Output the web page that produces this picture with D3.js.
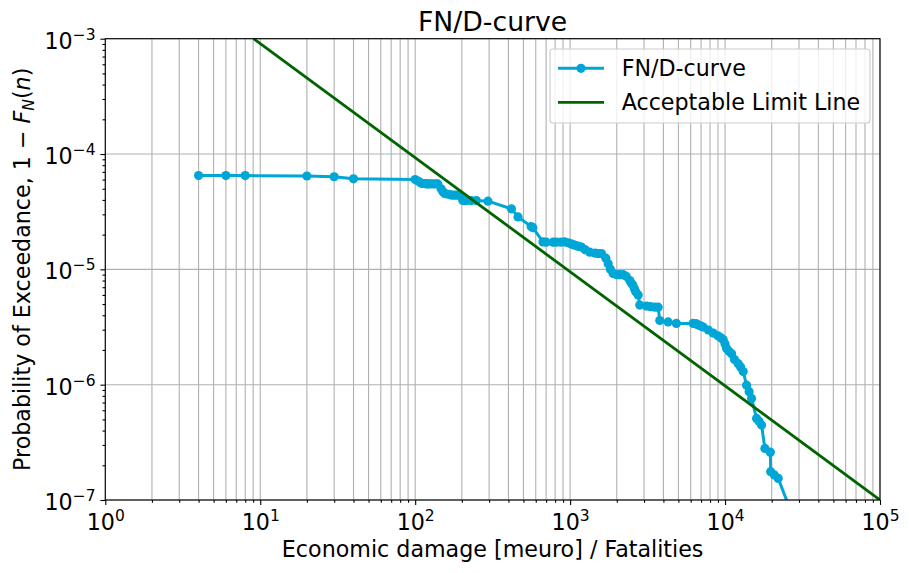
<!DOCTYPE html>
<html>
<head>
<meta charset="utf-8">
<script src="https://cdn.jsdelivr.net/npm/d3@7"></script>
<style>
  body { margin: 0; background: #fff; }
  svg text { font-family: "DejaVu Sans", sans-serif; fill: #000; }
</style>
</head>
<body>
<script>
// damage / fatalities (x) and probability of exceedance (y)
var damage = [4, 6, 8, 20, 30, 40, 100, 105, 109, 112, 115, 118, 121, 125, 130, 135, 140, 147, 151, 155, 160,
  167, 173, 180, 187, 194, 203, 209, 215, 230, 248, 295,
  418, 461, 560, 575, 668, 700, 776, 815, 870, 923, 970, 1019, 1060, 1100, 1140, 1182, 1250, 1339, 1450, 1520,
  1593, 1700, 1760, 1820, 1893, 2000, 2100, 2197, 2300, 2427, 2480, 2540, 2600, 2650, 2750, 2816, 3110, 3300,
  3520, 3700, 3790, 4290, 4850, 6220, 6500, 6700, 7000, 7220, 7800, 8380, 9000, 9400, 9730, 10000, 10230,
  10600, 11020, 11500, 12170, 12600, 13090, 13770, 14300, 14830, 15970, 16600, 17200, 18080, 19600, 19700,
  20800, 22030, 30400];
var exceedance = [6.5e-5, 6.5e-5, 6.5e-5, 6.45e-5, 6.35e-5, 6.1e-5, 6.0e-5, 5.8e-5, 5.6e-5, 5.55e-5, 5.55e-5,
  5.5e-5, 5.5e-5, 5.5e-5, 5.5e-5, 5.5e-5, 5.5e-5, 5.0e-5, 4.7e-5, 4.55e-5, 4.5e-5,
  4.45e-5, 4.4e-5, 4.4e-5, 4.4e-5, 4.4e-5, 3.95e-5, 3.95e-5, 3.95e-5, 3.95e-5, 3.95e-5, 3.9e-5,
  3.35e-5, 2.85e-5, 2.35e-5, 2.3e-5, 1.73e-5, 1.72e-5, 1.72e-5, 1.72e-5, 1.72e-5, 1.73e-5, 1.7e-5, 1.66e-5,
  1.63e-5, 1.6e-5, 1.58e-5, 1.56e-5, 1.48e-5, 1.41e-5, 1.38e-5, 1.37e-5,
  1.37e-5, 1.25e-5, 1.12e-5, 1.0e-5, 9.2e-6, 9.0e-6, 9.0e-6, 9.0e-6, 8.7e-6, 8.0e-6, 7.6e-6, 7.3e-6, 6.8e-6,
  6.4e-6, 6.0e-6, 4.9e-6, 4.8e-6, 4.75e-6,
  4.7e-6, 4.7e-6, 3.6e-6, 3.5e-6, 3.4e-6, 3.4e-6, 3.38e-6, 3.3e-6, 3.22e-6, 3.16e-6, 2.98e-6, 2.8e-6, 2.65e-6,
  2.55e-6, 2.45e-6, 2.25e-6, 2.06e-6,
  1.95e-6, 1.85e-6, 1.65e-6, 1.52e-6, 1.42e-6, 1.3e-6, 9.9e-7, 8.7e-7, 7.6e-7, 5.1e-7, 4.8e-7, 4.46e-7, 2.8e-7,
  2.6e-7, 1.76e-7, 1.65e-7, 1.54e-7, 5e-8];

// acceptable limit line, end points
var limitX = [9.06, 1e5];
var limitY = [1e-3, 1e-7];

var xTickExp = [0, 1, 2, 3, 4, 5];
var yTickExp = [-7, -6, -5, -4, -3];
var legendLabels = ["FN/D-curve", "Acceptable Limit Line"];

var curveColor = "#00a6d6";
var limitColor = "#006400";

var margin = {top: 38.7, right: 29, bottom: 73, left: 105.3};
var width = 909 - margin.left - margin.right;
var height = 573 - margin.top - margin.bottom;

var svg = d3.select("body").append("svg")
  .attr("width", 909)
  .attr("height", 573);

var g = svg.append("g")
  .attr("transform", "translate(" + margin.left + "," + margin.top + ")");

var x = d3.scaleLog().domain([1, 1e5]).range([0, width]);
var y = d3.scaleLog().domain([1e-7, 1e-3]).range([height, 0]);

var xMajor = xTickExp.map(function (e) { return Math.pow(10, e); });
var yMajor = yTickExp.map(function (e) { return Math.pow(10, e); });
function minors(lo, hi) {
  var out = [];
  for (var e = lo; e < hi; e++) {
    for (var k = 2; k <= 9; k++) out.push(k * Math.pow(10, e));
  }
  return out;
}
var xMinor = minors(0, 5);
var yMinor = minors(-7, -3);

// grid: vertical at major + minor x, horizontal at major y
g.append("g").selectAll("line")
  .data(xMajor.concat(xMinor))
  .enter().append("line")
  .attr("x1", function (d) { return x(d); })
  .attr("x2", function (d) { return x(d); })
  .attr("y1", 0).attr("y2", height)
  .attr("stroke", "#b0b0b0").attr("stroke-width", 1.1);
g.append("g").selectAll("line")
  .data(yMajor)
  .enter().append("line")
  .attr("y1", function (d) { return y(d); })
  .attr("y2", function (d) { return y(d); })
  .attr("x1", 0).attr("x2", width)
  .attr("stroke", "#b0b0b0").attr("stroke-width", 1.1);

// clip for the data
svg.append("defs").append("clipPath").attr("id", "plotclip")
  .append("rect").attr("width", width).attr("height", height);

var plot = g.append("g").attr("clip-path", "url(#plotclip)");

var points = damage.map(function (d, i) { return [d, exceedance[i]]; });
var line = d3.line()
  .x(function (d) { return x(d[0]); })
  .y(function (d) { return y(d[1]); });

plot.append("path")
  .datum(points)
  .attr("d", line)
  .attr("fill", "none")
  .attr("stroke", curveColor)
  .attr("stroke-width", 3)
  .attr("stroke-linejoin", "round");

plot.append("g").selectAll("circle")
  .data(points)
  .enter().append("circle")
  .attr("cx", function (d) { return x(d[0]); })
  .attr("cy", function (d) { return y(d[1]); })
  .attr("r", 4.6)
  .attr("fill", curveColor);

plot.append("path")
  .datum(limitX.map(function (d, i) { return [d, limitY[i]]; }))
  .attr("d", line)
  .attr("fill", "none")
  .attr("stroke", limitColor)
  .attr("stroke-width", 2.8);

// axes
function styleAxis(sel) {
  sel.select(".domain").remove();
  sel.selectAll(".tick line").attr("stroke", "#000").attr("stroke-width", 1.1);
}

g.append("g")
  .attr("transform", "translate(0," + height + ")")
  .call(d3.axisBottom(x).tickValues(xMinor).tickSize(2.8).tickFormat(""))
  .call(styleAxis);
g.append("g")
  .call(d3.axisLeft(y).tickValues(yMinor).tickSize(2.8).tickFormat(""))
  .call(styleAxis);

var xAxisG = g.append("g")
  .attr("transform", "translate(0," + height + ")")
  .call(d3.axisBottom(x).tickValues(xMajor).tickSize(4.9).tickFormat(""))
  .call(styleAxis);
var yAxisG = g.append("g")
  .call(d3.axisLeft(y).tickValues(yMajor).tickSize(4.9).tickFormat(""))
  .call(styleAxis);

function powerLabel(sel, exps) {
  sel.each(function (d, i) {
    var t = d3.select(this);
    t.append("tspan").text("10");
    t.append("tspan").attr("dy", -9).style("font-size", "15.5px")
      .text(String(exps[i]).replace("-", "\u2212"));
  });
}

xAxisG.selectAll(".tick").append("text")
  .attr("y", 29.5)
  .attr("text-anchor", "middle")
  .style("font-size", "22.2px")
  .call(powerLabel, xTickExp);

yAxisG.selectAll(".tick").append("text")
  .attr("x", -9.8)
  .attr("y", 9.6)
  .attr("text-anchor", "end")
  .style("font-size", "22.2px")
  .call(powerLabel, yTickExp);

// frame
g.append("rect")
  .attr("width", width).attr("height", height)
  .attr("fill", "none").attr("stroke", "#000").attr("stroke-width", 1.1);

// title and labels
svg.append("text")
  .attr("x", margin.left + width / 2).attr("y", 30.7)
  .attr("text-anchor", "middle")
  .style("font-size", "26.7px")
  .text("FN/D-curve");

svg.append("text")
  .attr("x", margin.left + width / 2).attr("y", 557)
  .attr("text-anchor", "middle")
  .style("font-size", "22.2px")
  .text("Economic damage [meuro] / Fatalities");

var yl = svg.append("text")
  .attr("transform", "translate(30," + (margin.top + height / 2) + ") rotate(-90)")
  .attr("text-anchor", "middle")
  .style("font-size", "22.2px");
yl.append("tspan").text("Probability of Exceedance, 1 \u2212 ");
yl.append("tspan").style("font-style", "italic").text("F");
yl.append("tspan").style("font-style", "italic").style("font-size", "15.5px").attr("dy", 4).text("N");
yl.append("tspan").attr("dy", -4).text("(");
yl.append("tspan").style("font-style", "italic").text("n");
yl.append("tspan").text(")");

// legend
var legend = svg.append("g");
legend.append("rect")
  .attr("x", 550).attr("y", 49).attr("width", 320).attr("height", 74)
  .attr("rx", 3)
  .attr("fill", "#fff").attr("fill-opacity", 0.8)
  .attr("stroke", "#cccccc").attr("stroke-width", 1.1);
var rowY = [68.3, 102.3];
legend.append("line")
  .attr("x1", 558).attr("x2", 604).attr("y1", rowY[0]).attr("y2", rowY[0])
  .attr("stroke", curveColor).attr("stroke-width", 3);
legend.append("circle")
  .attr("cx", 581).attr("cy", rowY[0]).attr("r", 4.6).attr("fill", curveColor);
legend.append("line")
  .attr("x1", 558).attr("x2", 604).attr("y1", rowY[1]).attr("y2", rowY[1])
  .attr("stroke", limitColor).attr("stroke-width", 2.8);
legend.selectAll("text.lab")
  .data(legendLabels)
  .enter().append("text")
  .attr("class", "lab")
  .attr("x", 621.7)
  .attr("y", function (d, i) { return rowY[i] + 7.8; })
  .style("font-size", "22.2px")
  .text(function (d) { return d; });
</script>
</body>
</html>
